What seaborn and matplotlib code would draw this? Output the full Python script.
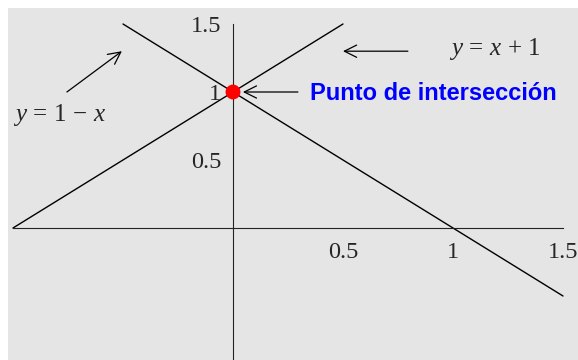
import numpy as np
import pandas as pd
import matplotlib
matplotlib.use("Agg")
import matplotlib.pyplot as plt
import seaborn as sns

# --- data ---
x_up = [-1.0, 0.5]          # y = x + 1
y_up = [0.0, 1.5]
x_down = [-0.5, 1.5]        # y = 1 - x
y_down = [1.5, -0.5]
point_x = [0.0]
point_y = [1.0]
tick_vals = [0.5, 1.0, 1.5]
tick_labels = ["0.5", "1", "1.5"]
label_up = r"$y\,=\,x\,+\,1$"
label_down = r"$y\,=\,1\,-\,x$"
label_point = "Punto de intersección"

sns.set_style("white")
plt.rcParams["font.family"] = ["Liberation Serif", "DejaVu Serif"]
plt.rcParams["mathtext.fontset"] = "custom"
plt.rcParams["mathtext.rm"] = "Liberation Serif"
plt.rcParams["mathtext.it"] = "Liberation Serif:italic"

fig = plt.figure(figsize=(5.78, 3.6), dpi=100)
ax = fig.add_axes([8 / 578, 0, 570 / 578, 352 / 360])
ax.set_facecolor("#e5e5e5")

df_up = pd.DataFrame({"x": x_up, "y": y_up})
df_down = pd.DataFrame({"x": x_down, "y": y_down})
sns.lineplot(data=df_up, x="x", y="y", color="black", lw=1.0, ax=ax)
sns.lineplot(data=df_down, x="x", y="y", color="black", lw=1.0, ax=ax)
sns.scatterplot(x=point_x, y=point_y, color="#ff0000", s=115, edgecolor="none",
                zorder=5, ax=ax)

ax.set_xlim(-1.0227, 1.5682)
ax.set_ylim(-0.9706, 1.6176)

# axes through the origin
for side in ["top", "right"]:
    ax.spines[side].set_visible(False)
ax.spines["left"].set_position(("data", 0))
ax.spines["bottom"].set_position(("data", 0))
ax.spines["left"].set_bounds(-0.9706, 1.5)
ax.spines["bottom"].set_bounds(-1.0, 1.5)
for side in ["left", "bottom"]:
    ax.spines[side].set_color("#222222")
    ax.spines[side].set_linewidth(0.8)

ax.set_xticks(tick_vals)
ax.set_xticklabels(tick_labels)
ax.set_yticks(tick_vals)
ax.set_yticklabels(tick_labels)
ax.tick_params(axis="both", direction="in", length=3, width=0.8,
               color="#222222", labelsize=17.5)
ax.tick_params(axis="x", pad=10)
ax.tick_params(axis="y", pad=8.5)
ax.set_xlabel("")
ax.set_ylabel("")

arrow = dict(arrowstyle="->", lw=0.9, color="black", mutation_scale=22,
             shrinkA=0, shrinkB=0)
ax.annotate("", xy=(-0.505, 1.30), xytext=(-0.755, 1.0), arrowprops=arrow)
ax.annotate("", xy=(0.50, 1.30), xytext=(0.795, 1.30), arrowprops=arrow)
ax.annotate("", xy=(0.045, 1.0), xytext=(0.295, 1.0), arrowprops=arrow)

ax.text(-1.0, 0.787, label_down, fontsize=18, ha="left", va="baseline")
ax.text(0.98, 1.272, label_up, fontsize=18, ha="left", va="baseline")
ax.text(0.35, 0.941, label_point, fontsize=17, fontweight="bold",
        color="#0000ff", family=["Liberation Sans", "DejaVu Sans"],
        ha="left", va="baseline")

fig.savefig("out.png", dpi=100, facecolor="white")
